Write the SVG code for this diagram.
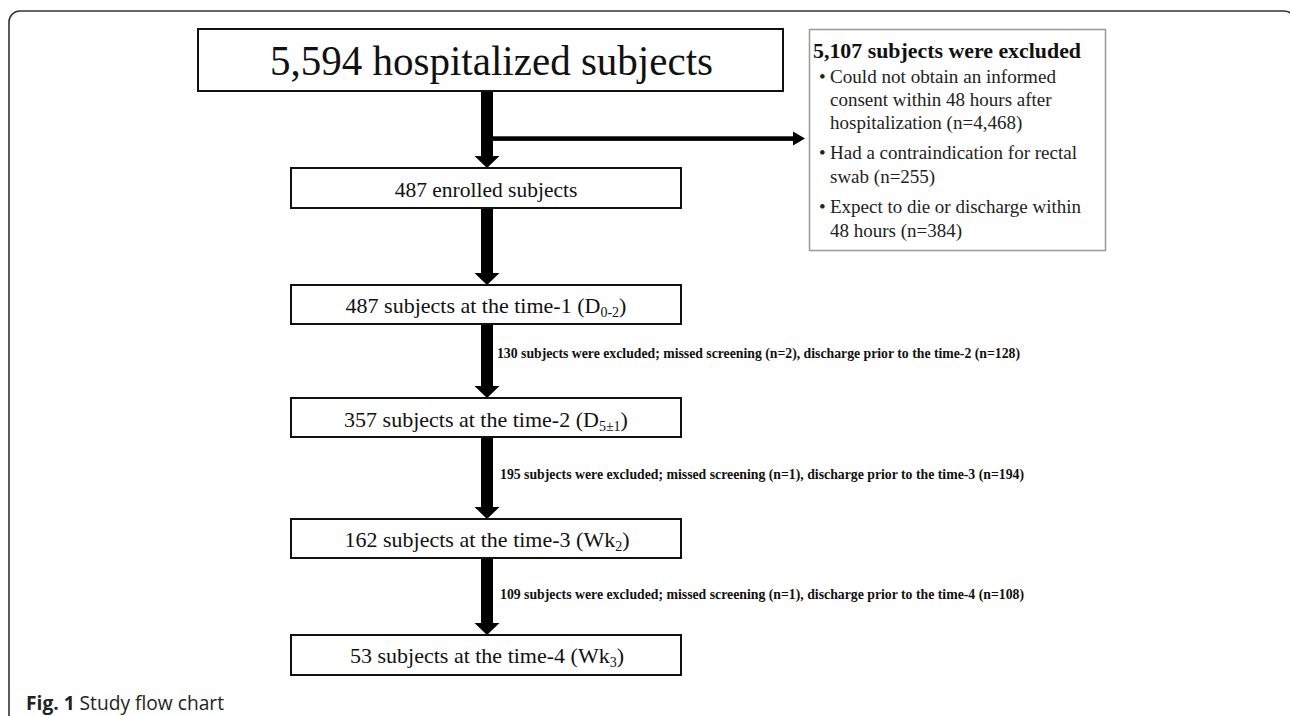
<svg xmlns="http://www.w3.org/2000/svg" width="1290" height="716" viewBox="0 0 1290 716">
<style>
.bg{fill:#fff}
.frame{fill:none;stroke:#333;stroke-width:1.6}
.box{fill:#fff;stroke:#111;stroke-width:2}
.xbox{fill:#fff;stroke:#999;stroke-width:1.5}
.t{font-family:"Liberation Serif","Times New Roman",serif;fill:#111}
.bt{font-family:"Liberation Serif","Times New Roman",serif;font-size:22px;fill:#111;text-anchor:middle}
.lbl{font-family:"Liberation Serif","Times New Roman",serif;font-size:13.7px;font-weight:bold;fill:#111}
.ex{font-family:"Liberation Serif","Times New Roman",serif;font-size:19px;fill:#222}
.arr{fill:#000}
.cap{font-family:"Open Sans","Noto Sans",sans-serif;font-size:20px;fill:#222}
</style>
<rect class="bg" x="0" y="0" width="1290" height="716"/>
<path class="frame" d="M9,716 V22 A11,11 0 0 1 20,11 H1284 A11,11 0 0 1 1295,22 V716"/>

<g id="connectors">
  <polygon class="arr" points="481,91 493,91 493,156 499.5,156 487,168 474.5,156 481,156"/>
  <rect class="arr" x="493" y="136.3" width="301" height="4.6"/>
  <polygon class="arr" points="793,131.6 805,138.6 793,145.6"/>
  <polygon class="arr" points="481,208 493,208 493,273 499.5,273 487,285 474.5,273 481,273"/>
  <polygon class="arr" points="481,324 493,324 493,386 499.5,386 487,398 474.5,386 481,386"/>
  <polygon class="arr" points="481,437 493,437 493,507 499.5,507 487,519 474.5,507 481,507"/>
  <polygon class="arr" points="481,558 493,558 493,623 499.5,623 487,635 474.5,623 481,623"/>
  <text class="lbl" x="497" y="357.5" textLength="523" lengthAdjust="spacingAndGlyphs">130 subjects were excluded; missed screening (n=2), discharge prior to the time-2 (n=128)</text>
  <text class="lbl" x="500" y="478.5" textLength="524" lengthAdjust="spacingAndGlyphs">195 subjects were excluded; missed screening (n=1), discharge prior to the time-3 (n=194)</text>
  <text class="lbl" x="500" y="598.5" textLength="524" lengthAdjust="spacingAndGlyphs">109 subjects were excluded; missed screening (n=1), discharge prior to the time-4 (n=108)</text>
</g>

<g id="node-hospitalized">
  <rect class="box" x="198" y="29" width="585" height="62"/>
  <text class="t" x="270" y="75" font-size="42" textLength="443" lengthAdjust="spacingAndGlyphs">5,594 hospitalized subjects</text>
</g>

<g id="node-excluded">
  <rect class="xbox" x="809.5" y="29.5" width="296" height="221"/>
  <text class="t" x="813" y="58.3" font-size="21" font-weight="bold" textLength="268" lengthAdjust="spacingAndGlyphs">5,107 subjects were excluded</text>
  <text class="ex" x="819" y="82.7">•</text>
  <text class="ex" x="830" y="82.7" textLength="226" lengthAdjust="spacingAndGlyphs">Could not obtain an informed</text>
  <text class="ex" x="830" y="106">consent within 48 hours after</text>
  <text class="ex" x="830" y="129.3">hospitalization (n=4,468)</text>
  <text class="ex" x="819" y="159.3">•</text>
  <text class="ex" x="830" y="159.3" textLength="247" lengthAdjust="spacingAndGlyphs">Had a contraindication for rectal</text>
  <text class="ex" x="830" y="182.7">swab (n=255)</text>
  <text class="ex" x="819" y="213.3">•</text>
  <text class="ex" x="830" y="213.3" textLength="251" lengthAdjust="spacingAndGlyphs">Expect to die or discharge within</text>
  <text class="ex" x="830" y="236.7">48 hours (n=384)</text>
</g>

<g id="node-enrolled">
  <rect class="box" x="291" y="168" width="390" height="40"/>
  <text class="t" x="486" y="196.5" font-size="21.5" text-anchor="middle">487 enrolled subjects</text>
</g>

<g id="node-time1">
  <rect class="box" x="291" y="285" width="390" height="39"/>
  <text class="bt" x="486" y="313">487 subjects at the time-1 (D<tspan font-size="14" dy="4">0-2</tspan><tspan dy="-4">)</tspan></text>
</g>

<g id="node-time2">
  <rect class="box" x="291" y="398" width="390" height="39"/>
  <text class="bt" x="486" y="426.5">357 subjects at the time-2 (D<tspan font-size="14" dy="4">5±1</tspan><tspan dy="-4">)</tspan></text>
</g>

<g id="node-time3">
  <rect class="box" x="291" y="519" width="390" height="39"/>
  <text class="bt" x="487" y="547">162 subjects at the time-3 (Wk<tspan font-size="14" dy="4">2</tspan><tspan dy="-4">)</tspan></text>
</g>

<g id="node-time4">
  <rect class="box" x="291" y="635" width="390" height="40"/>
  <text class="bt" x="487" y="663">53 subjects at the time-4 (Wk<tspan font-size="14" dy="4">3</tspan><tspan dy="-4">)</tspan></text>
</g>

<text class="cap" x="26" y="710" textLength="198" lengthAdjust="spacingAndGlyphs"><tspan font-weight="bold">Fig. 1</tspan> Study flow chart</text>
</svg>
